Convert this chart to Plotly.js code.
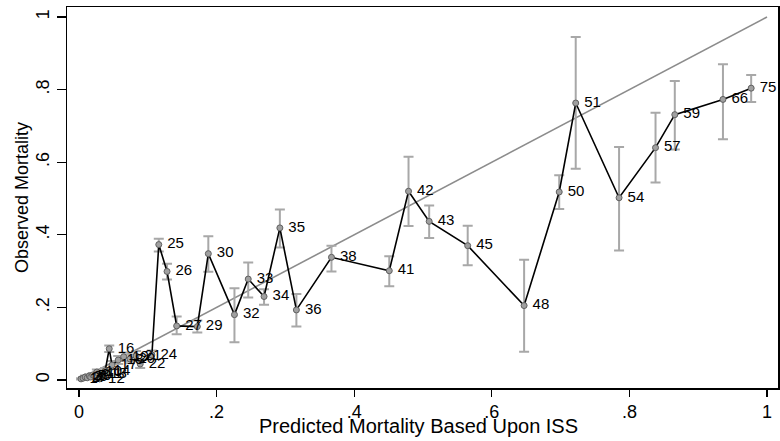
<!DOCTYPE html>
<html>
<head>
<meta charset="utf-8">
<script src="https://cdn.plot.ly/plotly-3.0.1.min.js"></script>
<style>html,body{margin:0;padding:0;background:#fff;}#chart{width:780px;height:441px;}</style>
</head>
<body>
<div id="chart"></div>
<script>
// ISS value of each point (used as marker label)
var iss = [1,2,3,4,5,6,8,9,10,11,12,13,14,16,17,18,19,20,21,22,24,25,26,27,29,30,32,33,34,35,36,38,41,42,43,45,48,50,51,54,57,59,66,75];
// Predicted mortality based upon ISS (x)
var predicted = [0.003,0.006,0.009,0.012,0.015,0.017,0.020,0.023,0.026,0.028,0.030,0.033,0.038,0.044,0.048,0.057,0.065,0.074,0.083,0.089,0.106,0.116,0.128,0.142,0.172,0.188,0.226,0.246,0.269,0.292,0.316,0.367,0.451,0.479,0.509,0.565,0.647,0.698,0.722,0.785,0.838,0.866,0.936,0.977];
// Observed mortality (y)
var observed = [0.003,0.005,0.008,0.006,0.011,0.008,0.014,0.011,0.022,0.017,0.003,0.017,0.025,0.086,0.041,0.055,0.064,0.058,0.066,0.044,0.069,0.373,0.299,0.149,0.147,0.348,0.180,0.278,0.230,0.419,0.193,0.338,0.301,0.520,0.437,0.370,0.205,0.518,0.763,0.502,0.640,0.731,0.773,0.804];
// 95% CI lower / upper of observed mortality
var ciLow  = [0.001,0.002,0.004,0.003,0.006,0.004,0.009,0.006,0.015,0.010,0.000,0.010,0.017,0.077,0.030,0.044,0.052,0.046,0.052,0.033,0.057,0.354,0.277,0.126,0.131,0.298,0.104,0.227,0.207,0.365,0.147,0.299,0.258,0.424,0.391,0.316,0.078,0.471,0.582,0.357,0.544,0.635,0.663,0.766];
var ciHigh = [0.005,0.008,0.012,0.009,0.016,0.012,0.019,0.016,0.029,0.024,0.008,0.024,0.033,0.095,0.052,0.066,0.076,0.070,0.080,0.055,0.081,0.389,0.320,0.175,0.164,0.396,0.253,0.324,0.250,0.470,0.237,0.370,0.341,0.615,0.481,0.425,0.331,0.564,0.945,0.642,0.736,0.824,0.870,0.840];
// Reference line of perfect prediction
var refX = [0, 1];
var refY = [0, 1];
// Axis ticks and titles
var tickVals = [0, 0.2, 0.4, 0.6, 0.8, 1];
var tickText = ["0", ".2", ".4", ".6", ".8", "1"];
var xTitle = "Predicted Mortality Based Upon ISS";
var yTitle = "Observed Mortality";

var errPlus = observed.map(function(v, i){ return ciHigh[i] - v; });
var errMinus = observed.map(function(v, i){ return v - ciLow[i]; });
var labels = iss.map(String);

var font = "Liberation Sans, Arial, Helvetica, sans-serif";

var traces = [
  {
    x: refX, y: refY, type: "scatter", mode: "lines",
    line: {color: "#8c8c8c", width: 1.6}, hoverinfo: "skip", showlegend: false
  },
  {
    x: predicted, y: observed, type: "scatter", mode: "lines+markers",
    line: {color: "#000", width: 1.6},
    marker: {symbol: "circle", size: 6, color: "#a0a0a0", line: {color: "#606060", width: 1}},
    error_y: {type: "data", symmetric: false, array: errPlus, arrayminus: errMinus,
              color: "#a8a8a8", thickness: 2, width: 5},
    hoverinfo: "skip", showlegend: false, cliponaxis: false
  },
  {
    x: predicted, y: observed, type: "scatter", mode: "markers+text",
    text: labels, textposition: "middle right",
    textfont: {family: font, size: 15, color: "#000"},
    marker: {size: 12, color: "rgba(0,0,0,0)", line: {width: 0}},
    hoverinfo: "skip", showlegend: false, cliponaxis: false
  }
];

var layout = {
  width: 780, height: 441,
  margin: {l: 67, r: 2, t: 7, b: 53, pad: 0},
  paper_bgcolor: "#fff", plot_bgcolor: "#fff",
  showlegend: false,
  font: {family: font, color: "#000", size: 18},
  xaxis: {
    range: [-0.0174, 1.016], tickvals: tickVals, ticktext: tickText,
    showgrid: false, zeroline: false, showline: true, mirror: true,
    linecolor: "#000", linewidth: 1.5, ticks: "outside", ticklen: 7, tickwidth: 1.2, tickcolor: "#000",
    tickfont: {family: font, size: 18, color: "#000"}
  },
  yaxis: {
    range: [-0.0221, 1.0276], tickvals: tickVals, ticktext: tickText,
    showgrid: false, zeroline: false, showline: true, mirror: true,
    linecolor: "#000", linewidth: 1.5, ticks: "outside", ticklen: 9, tickwidth: 1.2, tickcolor: "#000",
    tickangle: -90,
    tickfont: {family: font, size: 18, color: "#000"},
    title: {text: yTitle, font: {family: font, size: 18, color: "#000"}, standoff: 0}
  },
  annotations: [
    {text: xTitle, xref: "paper", yref: "paper", x: 0.495, y: -0.0997,
     xanchor: "center", yanchor: "middle", showarrow: false,
     font: {family: font, size: 20, color: "#000"}}
  ]
};

Plotly.newPlot("chart", traces, layout, {staticPlot: true, displayModeBar: false});
</script>
</body>
</html>
